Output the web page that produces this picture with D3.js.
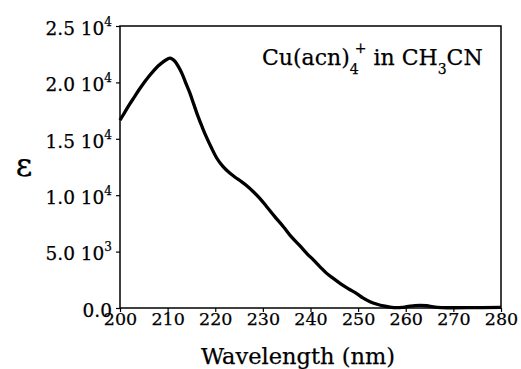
<!DOCTYPE html>
<html>
<head>
<meta charset="utf-8">
<script src="https://cdn.jsdelivr.net/npm/d3@7"></script>
<style>
  html, body { margin: 0; padding: 0; background: #fff; }
  svg { display: block; font-family: "DejaVu Serif", "Liberation Serif", serif; }
  svg text { fill: #000; stroke: #000; stroke-width: 0.25px; }
</style>
</head>
<body>
<svg id="chart" width="521" height="369"></svg>
<script>
// Absorption spectrum of Cu(acn)4+ in acetonitrile
const wavelength = [200, 201, 202, 203, 204, 205, 206, 207, 208, 209, 210, 210.5, 211.5, 212.3, 213, 214, 214.7, 215.5, 216.4, 217.3, 218.2, 219.2, 220.3, 221.6, 223.1, 224.3, 225.5, 226.8, 228, 229.4, 230.8, 232.5, 234.3, 236, 237.8, 239.2, 240.6, 242, 243.4, 244.8, 246.2, 248, 249.7, 251, 252.5, 254, 255.3, 256.7, 258.1, 259.2, 260.2, 261.6, 263, 264.4, 265.8, 267.5, 270, 273, 276, 280];
const epsilon    = [16650, 17350, 18050, 18700, 19350, 19950, 20500, 21000, 21450, 21800, 22080, 22150, 21880, 21380, 20800, 19750, 19030, 18050, 16960, 16000, 15100, 14200, 13300, 12550, 11940, 11550, 11200, 10780, 10310, 9700, 8980, 8100, 7210, 6300, 5500, 4850, 4260, 3650, 3070, 2620, 2190, 1700, 1280, 900, 560, 330, 180, 80, 30, 50, 115, 190, 240, 200, 100, 40, 20, 30, 40, 50];

const xTicks = [200, 210, 220, 230, 240, 250, 260, 270, 280];
const yTicks = [0, 5000, 10000, 15000, 20000, 25000];
const yTickMantissa = ["0.0", "5.0", "1.0", "1.5", "2.0", "2.5"];
const yTickExponent = ["", "3", "4", "4", "4", "4"];

const svg = d3.select("#chart");
const margin = { left: 120, right: 20, top: 26, bottom: 61 };
const W = 521, H = 369;

const x = d3.scaleLinear().domain([200, 280]).range([margin.left, W - margin.right]);
const y = d3.scaleLinear().domain([0, 25000]).range([H - margin.bottom, margin.top]);

// frame
svg.append("rect")
  .attr("x", x(200)).attr("y", y(25000))
  .attr("width", x(280) - x(200)).attr("height", y(0) - y(25000))
  .attr("fill", "none").attr("stroke", "#000").attr("stroke-width", 1.5);

// x axis
const xAxis = svg.append("g")
  .attr("transform", `translate(0,${y(0)})`)
  .call(d3.axisBottom(x).tickValues(xTicks).tickSize(4).tickPadding(1).tickFormat(d3.format("d")));
xAxis.select(".domain").remove();
xAxis.selectAll("line").attr("stroke", "#000").attr("stroke-width", 1.2);
xAxis.selectAll("text").attr("font-size", 17.5)
  .attr("font-family", "DejaVu Serif, serif");

// y axis
const yAxis = svg.append("g")
  .attr("transform", `translate(${x(200)},0)`)
  .call(d3.axisLeft(y).tickValues(yTicks).tickSize(4).tickPadding(4).tickFormat(() => ""));
yAxis.select(".domain").remove();
yAxis.selectAll("line").attr("stroke", "#000").attr("stroke-width", 1.2);
yAxis.selectAll(".tick text").each(function (d) {
  const t = d3.select(this)
    .attr("font-size", 18.5)
    .attr("font-family", "DejaVu Serif, serif")
    .attr("dy", "0.45em");
  const k = yTicks.indexOf(d);
  if (yTickExponent[k]) {
    t.append("tspan").text(yTickMantissa[k] + " 10");
    t.append("tspan").attr("font-size", 12).attr("dy", "-0.75em").text(yTickExponent[k]);
  } else {
    t.append("tspan").text(yTickMantissa[k]);
  }
});

// spectrum line
const line = d3.line().x((d, i) => x(wavelength[i])).y(d => y(d)).curve(d3.curveMonotoneX);
svg.append("path")
  .datum(epsilon)
  .attr("d", line)
  .attr("fill", "none")
  .attr("stroke", "#000")
  .attr("stroke-width", 3.3)
  .attr("stroke-linejoin", "round");

// axis titles
svg.append("text")
  .attr("x", 298).attr("y", 364)
  .attr("text-anchor", "middle").attr("font-size", 22.5)
  .text("Wavelength (nm)");

svg.append("text")
  .attr("x", 24).attr("y", 176)
  .attr("text-anchor", "middle").attr("font-size", 32)
  .text("ε");

// species label
const lab = svg.append("text")
  .attr("x", 262).attr("y", 65)
  .attr("font-size", 22);
lab.append("tspan").text("Cu(acn)");
lab.append("tspan").attr("font-size", 14).attr("dy", 9).text("4");
lab.append("tspan").attr("font-size", 14).attr("dy", -21).attr("dx", -4).text("+");
lab.append("tspan").attr("dy", 12).text(" in CH");
lab.append("tspan").attr("font-size", 14).attr("dy", 9).text("3");
lab.append("tspan").attr("dy", -9).text("CN");
</script>
</body>
</html>
